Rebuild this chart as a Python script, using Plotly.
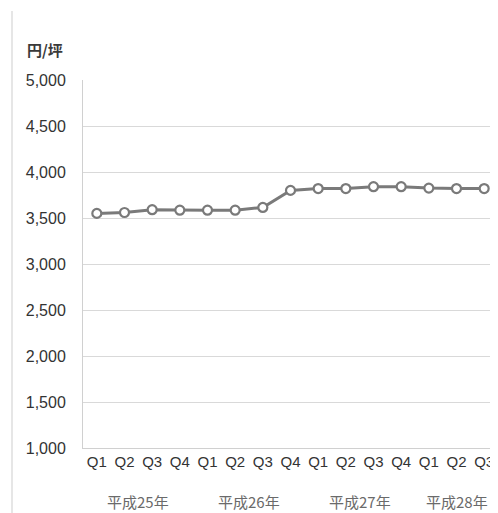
import plotly.graph_objects as go

years = ["平成25年"] * 4 + ["平成26年"] * 4 + ["平成27年"] * 4 + ["平成28年"] * 3
quarters = ["Q1", "Q2", "Q3", "Q4", "Q1", "Q2", "Q3", "Q4",
            "Q1", "Q2", "Q3", "Q4", "Q1", "Q2", "Q3"]
values = [3550, 3560, 3590, 3585, 3585, 3585, 3615, 3800,
          3820, 3820, 3840, 3840, 3825, 3820, 3820]
y_ticks = [1000, 1500, 2000, 2500, 3000, 3500, 4000, 4500, 5000]
unit_label = "円/坪"

idx = list(range(len(values)))

FONT = "Liberation Sans, Arial, Noto Sans CJK JP, sans-serif"
JP_FONT = "Noto Sans CJK JP, Liberation Sans, sans-serif"

fig = go.Figure()
fig.add_trace(go.Scatter(
    x=idx, y=values, mode="lines+markers",
    line=dict(color="#7a7a7a", width=3),
    marker=dict(symbol="circle", size=9, color="white",
                line=dict(color="#7a7a7a", width=2.2)),
    showlegend=False, hoverinfo="skip",
))

# year group labels centered under their quarters
annotations = []
seen = []
for y in years:
    if y not in seen:
        seen.append(y)
for yl in seen:
    pos = [i for i, v in enumerate(years) if v == yl]
    annotations.append(dict(
        x=(pos[0] + pos[-1]) / 2, y=0, xref="x", yref="paper",
        xanchor="center", yanchor="middle",
        yshift=-53, text=yl, showarrow=False,
        font=dict(family=JP_FONT, size=15, color="#6a6a6a"),
    ))
annotations.append(dict(
    x=-0.0916, y=1.084, xref="paper", yref="paper", text="<b>" + unit_label + "</b>",
    showarrow=False, xanchor="center", yanchor="middle",
    font=dict(family=JP_FONT, size=15, color="#3a3a3a"),
))

fig.update_layout(
    width=490, height=505,
    margin=dict(l=75, r=0, t=72, b=65),
    paper_bgcolor="white", plot_bgcolor="white",
    annotations=annotations,
    shapes=[dict(type="line", xref="paper", yref="paper",
                 x0=-0.171, x1=-0.171, y0=1.1875, y1=-0.2,
                 line=dict(color="#e6e6e6", width=2))],
    xaxis=dict(
        range=[-0.5, len(values) - 0.5],
        tickmode="array", tickvals=idx, ticktext=quarters,
        showgrid=False, zeroline=False,
        showline=True, linecolor="#d0d0d0", linewidth=1,
        ticks="", ticklabelstandoff=0, ticklabeloverflow="allow",
        tickfont=dict(family=FONT, size=15, color="#333333"),
    ),
    yaxis=dict(
        range=[1000, 5000], tickvals=y_ticks,
        tickformat=",d",
        showgrid=True, gridcolor="#d9d9d9", gridwidth=1,
        zeroline=False,
        showline=True, linecolor="#d0d0d0", linewidth=1,
        ticks="", ticklabelstandoff=13,
        tickfont=dict(family=FONT, size=16, color="#333333"),
    ),
)

fig.write_html("out.html",
               post_script="document.body.style.overflow='hidden';")
